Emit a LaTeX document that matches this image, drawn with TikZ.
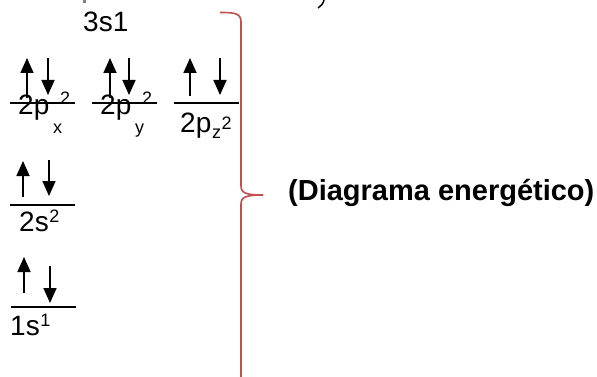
\documentclass[tikz,border=0pt]{standalone}
\usepackage{fontspec}
\setmainfont{Liberation Sans}
\usetikzlibrary{arrows.meta}
\definecolor{bracered}{RGB}{192,80,77}
\tikzset{
  lvl/.style={line width=1.6pt},
  spin/.style={line width=1.7pt,-{Triangle[width=13pt,length=15pt]}},
  txt/.style={anchor=base west,inner sep=0pt,font=\fontsize{28}{28}\selectfont},
  small/.style={anchor=base west,inner sep=0pt,font=\fontsize{18}{18}\selectfont},
  bold/.style={anchor=base west,inner sep=0pt,font=\fontsize{29}{29}\selectfont\bfseries},
  brace/.style={draw=bracered,line width=1.6pt}
}
\begin{document}
\begin{tikzpicture}[x=1pt,y=-1pt]
\useasboundingbox (0,0) rectangle (597,377);
% cropped fragments at top edge
\draw[gray,line width=3pt] (84.5,0) -- (84.5,3.5);
\draw[line width=1.5pt] (324,0) .. controls (323,4) and (321,6) .. (318,8);

% 3s1
\node[txt] (t3s) at (83,32) {3s1};

% 2p levels
\draw[lvl] (10,103) -- (75,103);
\draw[lvl] (92,103) -- (157,103);
\draw[lvl] (174,103) -- (239,103);
\draw[spin] (27,98) -- (27,58);
\draw[spin] (48,58) -- (48,95);
\draw[spin] (110,98) -- (110,58);
\draw[spin] (129,58) -- (129,95);
\draw[spin] (190,96) -- (190,58);
\draw[spin] (220,58) -- (220,95);
\node[txt] (t2px) at (18,115) {2p};
\node[small] (t2pxs) at (60,105) {2};
\node[small] (t2pxb) at (53,134) {x};
\node[txt] (t2py) at (100,115) {2p};
\node[small] (t2pys) at (142,105) {2};
\node[small] (t2pyb) at (135,134) {y};
\node[txt] (t2pz) at (180,132) {2p};
\node[small,anchor=base west] (t2pzb) at ([xshift=0.3pt,yshift=-7pt]t2pz.base east) {z};
\node[small,anchor=base west] (t2pzs) at ([xshift=0.3pt,yshift=9pt]t2pzb.base east) {2};

% 2s level
\draw[lvl] (10,205) -- (75,205);
\draw[spin] (23,197) -- (23,161);
\draw[spin] (49,160) -- (49,196);
\node[txt] (t2s) at (19,231) {2s};
\node[small,anchor=base west] (t2ss) at ([xshift=0.3pt,yshift=9pt]t2s.base east) {2};

% 1s level
\draw[lvl] (11,307) -- (76,307);
\draw[spin] (24,293) -- (24,257);
\draw[spin] (50,266) -- (50,303);
\node[txt] (t1s) at (10,335) {1s};
\node[small,anchor=base west] (t1ss) at ([xshift=0.3pt,yshift=9pt]t1s.base east) {1};

% brace
\draw[brace] (220,12.5) .. controls (234,12.5) and (241,13) .. (241,22) -- (241,186) .. controls (241,193) and (246,195) .. (263,195);
\draw[brace] (263,195) .. controls (246,195) and (241,197) .. (241,204) -- (241,377);

\node[bold] (lab) at (288,200) {(Diagrama energético)};
\end{tikzpicture}
\end{document}
